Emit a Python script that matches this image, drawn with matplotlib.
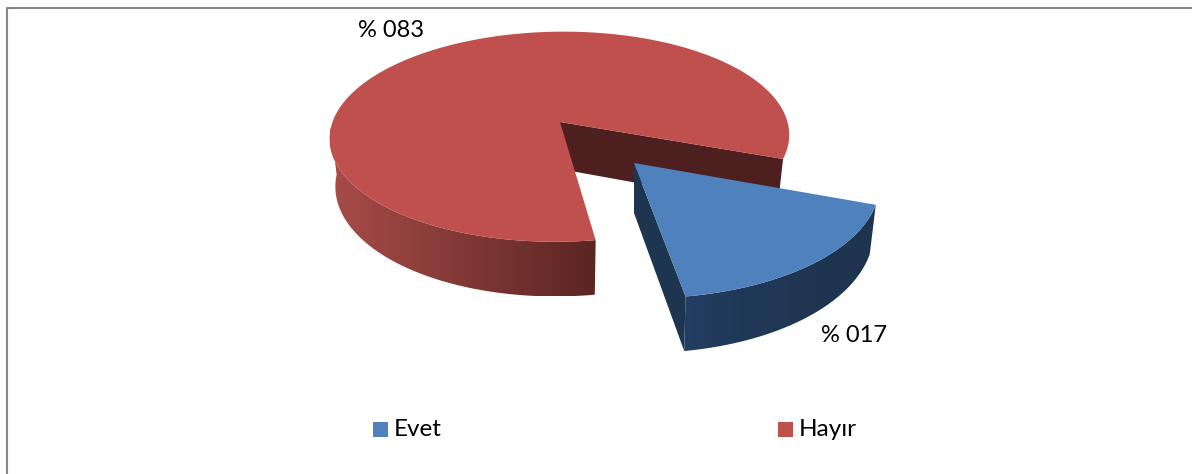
#!/usr/bin/env python3
"""3D style exploded pie chart, Evet / Hayir"""

import numpy as np
import matplotlib
matplotlib.use('Agg')

import matplotlib.pyplot as plt
from matplotlib.colors import LinearSegmentedColormap
from matplotlib.patches import Polygon, Rectangle

plt.rcParams['font.family'] = ['Lato', 'DejaVu Sans']

# data
categories = ['Evet', 'Hayır']
shares = [17, 83]

# colors
TOP_COLORS = ['#4f81bd', '#bf504d']
FACE_COLORS = ['#1e3550', '#4d1f1e']
WALL_LEFT = ['#25406a', '#a84c48']
WALL_RIGHT = ['#1e344e', '#5a2524']

# pie geometry, in pixels
W, H = 1192, 474
APEX = (560, 122)
EXPLODE = (74, 41)
RX, RY = 227.5, 103
PERSP = 0.14
DEPTH = 47
BOTTOM_SHRINK = 0.975
START = -20  # degrees, first slice goes clockwise from here

# slice placement: x scale, x shear, y scale (the moved slice sits closer to the viewer)
RED_VIEW = (1.0, -0.04, 1.0)
BLUE_VIEW = (1.065, 0.072, 1.13)


def project(angle, offset=(0, 0), view=RED_VIEW, bottom=False):
    """Map disc angle (deg) to picture pixels, with simple perspective"""
    a = np.radians(angle)
    u, v = np.cos(a), np.sin(a)
    s = 1 / (1 + PERSP * v)
    x0 = RX * u * s
    y0 = -RY * v * s
    x = view[0] * x0 + view[1] * y0
    y = view[2] * y0
    if bottom:
        x = x * BOTTOM_SHRINK
        y = y + DEPTH * s
    return np.column_stack([APEX[0] + offset[0] + x, APEX[1] + offset[1] + y])


def draw_wall(ax, a0, a1, offset, view, c0, c1, fade=1.0, z=1):
    """Outer wall of a slice: left to right gradient clipped to the wall shape"""
    angs = np.linspace(a0, a1, 200)
    outline = np.vstack([project(angs, offset, view),
                         project(angs, offset, view, bottom=True)[::-1]])
    x0, x1 = outline[:, 0].min(), outline[:, 0].max()
    y0, y1 = outline[:, 1].min(), outline[:, 1].max()
    cmap = LinearSegmentedColormap.from_list('wall', [c0, c1])
    grad = np.linspace(0, 1, 256)[None, :] ** fade
    im = ax.imshow(grad, cmap=cmap, extent=(x0, x1, y1, y0), aspect='auto', zorder=z)
    im.set_clip_path(Polygon(outline, closed=True, transform=ax.transData))


fig = plt.figure(figsize=(W / 100, H / 100), dpi=100, facecolor='white')
ax = fig.add_axes([0, 0, 1, 1])

# slice angles
blue_sweep = 360 * shares[0] / sum(shares)
blue_end = START - blue_sweep
red_a = np.linspace(START, blue_end + 360, 300)
blue_a = np.linspace(blue_end, START, 100)

# red cut face behind the gap
p_top = project(np.array([START]))[0]
p_bot = project(np.array([START]), bottom=True)[0]
ax.add_patch(Polygon([APEX, p_top, p_bot, (APEX[0], APEX[1] + DEPTH)], closed=True,
                     facecolor=FACE_COLORS[1], edgecolor='none', zorder=0.5))

# red wall and top
draw_wall(ax, 183, blue_end + 360, (0, 0), RED_VIEW, WALL_LEFT[1], WALL_RIGHT[1])
ax.add_patch(Polygon(np.vstack([[APEX], project(red_a)]), closed=True,
                     facecolor=TOP_COLORS[1], edgecolor='none', zorder=2))

# blue cut face, wall and top
bx, by = APEX[0] + EXPLODE[0], APEX[1] + EXPLODE[1]
b_top = project(np.array([blue_end]), EXPLODE, BLUE_VIEW)[0]
b_bot = project(np.array([blue_end]), EXPLODE, BLUE_VIEW, bottom=True)[0]
ax.add_patch(Polygon([(bx, by), b_top, b_bot, (bx, by + DEPTH + 3)], closed=True,
                     facecolor=FACE_COLORS[0], edgecolor='none', zorder=3))
draw_wall(ax, blue_end, START, EXPLODE, BLUE_VIEW, WALL_LEFT[0], WALL_RIGHT[0], fade=0.4, z=3)
ax.add_patch(Polygon(np.vstack([[(bx, by)], project(blue_a, EXPLODE, BLUE_VIEW)]), closed=True,
                     facecolor=TOP_COLORS[0], edgecolor='none', zorder=4))

# chart frame
ax.plot([6.5, 6.5, 1192], [474, 7.5, 7.5], color='#868686', linewidth=1.5)

# value labels
ax.text(391, 30, f'% {shares[1]:03d}', fontsize=17, color='black', ha='center', va='center')
ax.text(854, 336, f'% {shares[0]:03d}', fontsize=17, color='black', ha='center', va='center')

# legend
for name, col, x in zip(categories, TOP_COLORS, [373, 778]):
    ax.add_patch(Rectangle((x, 422), 15, 15, facecolor=col, edgecolor='none'))
    ax.text(x + 21, 430, name, fontsize=17.5, color='black', ha='left', va='center')

ax.set_xlim(0, W)
ax.set_ylim(H, 0)
ax.axis('off')

fig.savefig('out.png', dpi=100, facecolor='white')
plt.close(fig)
